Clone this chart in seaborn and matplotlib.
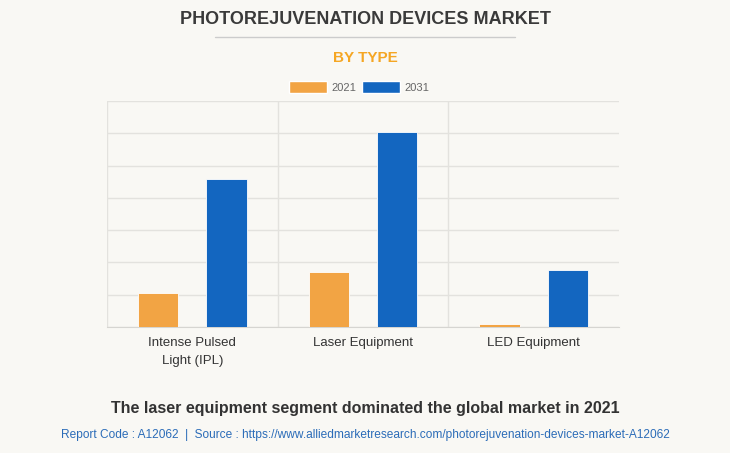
import numpy as np
import pandas as pd
import seaborn as sns
import matplotlib.pyplot as plt
from matplotlib.patches import Patch
from matplotlib.lines import Line2D

categories = ["Intense Pulsed\nLight (IPL)", "Laser Equipment", "LED Equipment"]
years = ["2021", "2031"]
values_2021 = [1.05, 1.70, 0.10]
values_2031 = [4.57, 6.05, 1.76]
colors = ["#f2a444", "#1366c0"]

df = pd.DataFrame({
    "type": categories * 2,
    "year": ["2021"] * 3 + ["2031"] * 3,
    "value": values_2021 + values_2031,
})

bg = "#f9f8f4"
sns.set_style("white")
plt.rcParams["font.family"] = ["Liberation Sans", "DejaVu Sans"]

fig = plt.figure(figsize=(7.3, 4.53), dpi=100, facecolor=bg)
ax = fig.add_axes([107 / 730, 1 - 327 / 453, 512 / 730, 226 / 453])
ax.set_facecolor(bg)

sns.barplot(data=df, x="type", y="value", hue="year", palette=colors,
            order=categories, hue_order=years, width=0.8, gap=0.41, saturation=1,
            edgecolor="white", linewidth=0.6, ax=ax, legend=False, zorder=3)

ax.set_ylim(0, 7)
ax.set_xlim(-0.5, 2.5)
ax.set_yticks(np.arange(0, 8, 1))
ax.set_yticklabels([])
ax.set_xticks([-0.5, 0.5, 1.5], minor=True)
ax.grid(axis="y", color="#e3e2de", linewidth=1, zorder=0)
ax.grid(axis="x", which="minor", color="#e3e2de", linewidth=1, zorder=0)
ax.tick_params(axis="y", length=7, color="#e3e2de", width=1)
ax.tick_params(axis="x", which="major", length=0, labelsize=9.5, labelcolor="#333333", pad=7)
ax.tick_params(axis="x", which="minor", length=6, color="#e3e2de", width=1)
for lbl in ax.get_xticklabels():
    lbl.set_linespacing(1.7)
for s in ["top", "right", "left"]:
    ax.spines[s].set_visible(False)
ax.spines["bottom"].set_color("#d6d5d1")
ax.set_xlabel("")
ax.set_ylabel("")

fig.text(0.5, 1 - 20 / 453, "PHOTOREJUVENATION DEVICES MARKET", ha="center", va="center",
         fontsize=13, fontweight="bold", color="#3a3a3a")
fig.add_artist(Line2D([215 / 730, 515 / 730], [1 - 37 / 453] * 2, color="#cccccc", linewidth=1))
fig.text(0.5, 1 - 58 / 453, "BY TYPE", ha="center", va="center",
         fontsize=11, fontweight="bold", color="#f5a623")

handles = [Patch(facecolor=c, edgecolor="white", label=y) for c, y in zip(colors, years)]
fig.legend(handles=handles, loc="center", bbox_to_anchor=(0.492, 1 - 87 / 453), ncol=2,
           frameon=False, fontsize=8, labelcolor="#666666", handlelength=3.4,
           handleheight=1.2, handletextpad=0.4, columnspacing=0.6)

fig.text(0.5, 1 - 408 / 453, "The laser equipment segment dominated the global market in 2021",
         ha="center", va="center", fontsize=11.5, fontweight="bold", color="#333333")
fig.text(0.5, 1 - 435 / 453,
         "Report Code : A12062  |  Source : https://www.alliedmarketresearch.com/photorejuvenation-devices-market-A12062",
         ha="center", va="center", fontsize=8.6, color="#2b6cb8")

fig.savefig("out.png", dpi=100, facecolor=bg)
